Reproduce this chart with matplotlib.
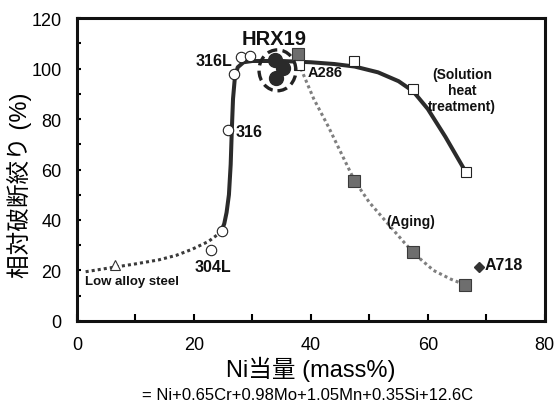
import matplotlib
matplotlib.use("Agg")
import matplotlib.pyplot as plt
from matplotlib.patches import Ellipse
from matplotlib.ticker import MultipleLocator

plt.rcParams['font.family'] = ['Liberation Sans', 'Noto Sans CJK JP']

# measured points
low_alloy_x, low_alloy_y = [6.5], [22]
ss_x = [22.9, 24.8, 25.9, 26.9, 28.1, 29.6]          # 304L, 316, 316L (open circles)
ss_y = [28.2, 35.8, 75.5, 98.0, 104.5, 104.8]
hrx_x = [33.9, 35.3, 34.1]                           # HRX19
hrx_y = [103.3, 100.1, 96.1]
sol_x = [38.0, 47.4, 57.5, 66.6]                     # solution heat treatment
sol_y = [101.3, 102.9, 91.8, 59.2]
age_x = [37.8, 47.4, 57.4, 66.4]                     # aging
age_y = [105.7, 55.6, 27.4, 14.3]
a718_x, a718_y = [68.7], [21.5]

# trend lines
low_curve_x = [1.5, 5, 10, 14, 17, 19.7, 22.5, 24.8]
low_curve_y = [19.5, 20.8, 22.6, 24.2, 26.0, 28.4, 31.5, 35.5]
main_curve_x = [24.6, 25.2, 25.6, 26.0, 26.3, 26.5, 26.7, 27.0, 27.5, 28.5, 30,
                35, 40, 44, 47.5, 51.5, 55, 57.5, 60, 63, 66.5]
main_curve_y = [35, 38.5, 43, 50, 62, 76, 88, 96, 100.5, 102.5, 103,
                103, 102.5, 101.8, 100.8, 98.5, 95, 91, 84, 73, 59]
age_curve_x = [38.3, 40.5, 43, 45.5, 47.5, 50, 53, 56, 58, 61, 64, 66.4]
age_curve_y = [100, 88, 77, 65, 55.5, 47, 39, 31, 26, 20, 16.5, 14.3]

fig = plt.figure(figsize=(5.57, 4.06), dpi=100)
ax = fig.add_axes([0.138, 0.207, 0.840, 0.746])

ax.plot(low_curve_x, low_curve_y, color='#3a3a3a', lw=2.2, ls=(0, (1, 1)), zorder=2)
ax.plot(main_curve_x, main_curve_y, color='#2b2b2b', lw=2.9, zorder=2)
ax.plot(age_curve_x, age_curve_y, color='#7f7f7f', lw=2.2, ls=(0, (1, 1)), zorder=2)

ax.plot(low_alloy_x, low_alloy_y, '^', ms=7, mfc='white', mec='#333333', mew=0.8, zorder=3)
ax.plot(ss_x, ss_y, 'o', ms=7.5, mfc='white', mec='#222222', mew=0.8, zorder=3, ls='none')
ax.plot(sol_x, sol_y, 's', ms=7.5, mfc='white', mec='#222222', mew=0.8, zorder=3, ls='none')
ax.plot(age_x, age_y, 's', ms=8.5, mfc='#6e6e6e', mec='#3a3a3a', mew=0.8, zorder=4, ls='none')
ax.plot(hrx_x, hrx_y, 'o', ms=10, mfc='#2a2a2a', mec='#2a2a2a', zorder=4, ls='none')
ax.plot(a718_x, a718_y, 'D', ms=5, mfc='#333333', mec='#333333', zorder=3)

ax.add_patch(Ellipse((34.3, 99.3), 6.3, 16.2, fill=False, ec='#222222', lw=2.4,
                     ls=(0, (3, 1.6)), zorder=5))

bold = dict(fontweight='bold', color='#111111')
ax.text(33.8, 112, 'HRX19', ha='center', va='center', fontsize=14.5, **bold)
ax.text(26.5, 103, '316L', ha='right', va='center', fontsize=11.5, **bold)
ax.text(27.2, 75.2, '316', ha='left', va='center', fontsize=11.5, **bold)
ax.text(23.3, 21.5, '304L', ha='center', va='center', fontsize=11.5, **bold)
ax.text(1.4, 16, 'Low alloy steel', ha='left', va='center', fontsize=9.5, **bold)
ax.text(39.4, 98.5, 'A286', ha='left', va='center', fontsize=10.5, **bold)
ax.text(65.9, 91.5, '(Solution\nheat\ntreatment)', ha='center', va='center',
        fontsize=10, linespacing=1.15, **bold)
ax.text(57.1, 39.8, '(Aging)', ha='center', va='center', fontsize=10, **bold)
ax.text(69.7, 22.2, 'A718', ha='left', va='center', fontsize=11.5, **bold)

ax.set_xlim(0, 80)
ax.set_ylim(0, 120)
ax.xaxis.set_major_locator(MultipleLocator(20))
ax.xaxis.set_minor_locator(MultipleLocator(10))
ax.yaxis.set_major_locator(MultipleLocator(20))
ax.yaxis.set_minor_locator(MultipleLocator(10))
ax.tick_params(which='both', direction='in', top=False, right=False, width=1.5,
               labelsize=13, pad=11)
ax.tick_params(axis='x', which='both', length=5)
ax.tick_params(axis='y', which='both', length=3)
for s in ax.spines.values():
    s.set_linewidth(2.2)
    s.set_color('#111111')

ax.set_ylabel('相対破断絞り (%)', fontsize=17)
ax.yaxis.set_label_coords(-0.096, 0.452)
ax.set_xlabel('Ni当量 (mass%)', fontsize=17, labelpad=2)
fig.text(0.553, 0.026, '= Ni+0.65Cr+0.98Mo+1.05Mn+0.35Si+12.6C', ha='center',
         va='center', fontsize=12)

fig.savefig('out.png', dpi=100)
